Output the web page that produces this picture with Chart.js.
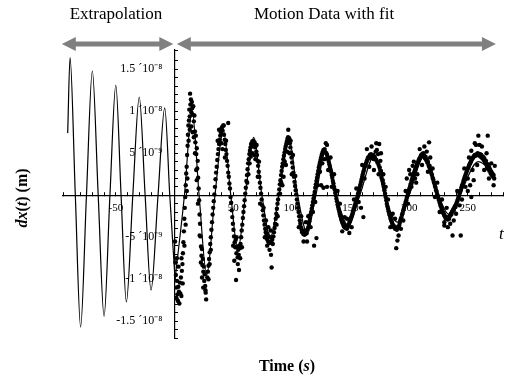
<!DOCTYPE html>
<html>
<head>
<meta charset="utf-8">
<script src="https://cdn.jsdelivr.net/npm/chart.js@4/dist/chart.umd.min.js"></script>
<style>
  html, body { margin: 0; padding: 0; background: #fff; }
</style>
</head>
<body>
<canvas id="myChart" width="513" height="383"></canvas>
<script>
// time in s, dx in nm (1e-9 m)
var extrapolation = [
  [-91, 7.4], [-89, 16.4], [-84.5, 0], [-80, -15.7], [-75, 0], [-70, 14.8], [-65, 0],
  [-60, -14.4], [-55, 0], [-50, 13.1], [-45.5, 0], [-41, -12.7], [-35.5, 0], [-30, 11.7],
  [-25, 0], [-20, -11.3], [-14, 0], [-8.3, 10.4], [-4, 0], [0.5, -10]
];

var fitCurve = [
  [0.5, -10], [8.5, 0], [15, 10.1], [21, 0], [27.5, -9.5], [34.5, 0], [41.7, 7.7], [48, 0],
  [54, -6.5], [60.5, 0], [67.5, 6.9], [74.5, 0], [81.7, -5], [89, 0], [97.5, 6.8], [105, 0],
  [113, -4.4], [120.5, 0], [129, 5.3], [138, 0], [148, -3.6], [158, 0], [170, 4.6], [179, 0],
  [190, -3.2], [200, 0], [213, 4.7], [225, 0], [234, -2.3], [243, 0], [259, 4.0], [273, 2.5]
];

var motionData = [
  [0.5,-5.5],[0.8,-8],[1.2,-9.5],[1.5,-11],[1.8,-12.3],[2.2,-10.2],[2.5,-11.8],[3,-12.6],[3.3,-10.9],
  [3.8,-11.5],[4.2,-12.9],[4.6,-10.4],[5,-11.7],[5.5,-9.8],[5.9,-12],[6.3,-9],[6.8,-8.2],[7.2,-6.9],
  [7.6,-5.6],[8,-4.3],[8.4,-2.8],[8.8,-1.5],[9.2,-0.2],[9.6,1.2],[10,2.6],[10.4,3.4],[10.8,4.8],
  [11.2,5.9],[11.5,7.2],[11.9,8.3],[12.3,8.9],[12.6,10.2],[13,9.4],[13.3,12.1],[13.6,10.8],[14,11.4],
  [14.4,9.9],[14.8,11.1],[15.2,10.4],[15.6,9.6],[16,10.6],
  [16.5,8.8],[17,9.5],[17.4,7.6],[17.8,6.3],[18.2,7.1],[18.6,4.9],[19,5.6],[19.4,3.2],[19.8,4.1],
  [20.2,2.1],[20.6,0.8],[21,-0.6],[21.4,-2.3],[21.8,-3.4],[22.2,-4.9],[22.6,-6.1],[23,-7.2],
  [23.4,-6.4],[23.8,-8.3],[24.2,-7.6],[24.6,-9.1],[25,-8.5],[25.4,-10.2],[25.8,-9.4],[26.2,-10.8],
  [26.6,-11.6],[27,-12.4],[26.4,-11.3],
  [28,-9.8],[28.5,-9.1],[29,-8.4],[29.5,-7.6],[30,-6.8],[30.5,-5.8],[31,-5],[31.5,-4.1],[32,-3.2],
  [32.5,-2.3],[33,-1.5],[33.5,-0.7],[34,0.1],[34.5,1],[35,1.9],[35.5,2.7],[36,3.4],[36.5,4.2],
  [37,4.9],[37.5,5.5],[38,6.1],[38.5,6.6],[39,7.1],[39.5,7.5],[40,7.9],[40.5,8.1],[41,7.7],[41.5,8.3],
  [42.2,7.2],[42.8,6.6],[43.3,6.1],[43.8,5.4],[44.3,4.9],[44.8,4.1],[45.3,3.5],[45.8,8.6],[45.8,2.7],
  [46.3,2.2],[46.8,1.4],[47.3,0.8],[47.8,-0.2],[48.3,-0.9],[48.8,-1.8],[49.3,-2.6],[49.8,-3.4],
  [50.3,-4.1],[50.8,-4.9],[51.3,-5.6],[51.8,-6.2],[52.2,-5.3],[52.5,-10.1],[52.8,-6.9],[53.3,-6.1],
  [53.8,-7.4],[54.3,-6.5],[54.8,-7.1],[55,-8.9],[55.4,-6],
  [55.8,-6.3],[56.3,-5.8],[56.8,-5],[57.3,-4.2],[57.8,-3.5],[58.3,-2.7],[58.8,-2],[59.3,-1.3],
  [59.8,-0.6],[60.3,0.2],[60.8,0.9],[61.3,1.7],[61.8,2.4],[62.3,3.1],[62.8,3.8],[63.3,4.3],[63.8,4.9],
  [64.3,5.3],[64.8,5.7],[65.3,6.1],[65.8,5.8],[66.3,6.4],[66.8,6],[67.3,6.5],[67.8,5.9],[68.3,6.3],
  [68.8,5.7],[69.3,6],
  [69.8,5.2],[70.3,4.8],[70.8,4.1],[71.3,3.5],[71.8,2.8],[72.3,2.2],[72.8,1.5],[73.3,0.9],[73.8,0.2],
  [74.3,-0.5],[74.8,-1.2],[75.3,-1.8],[75.8,-2.4],[76.3,-3],[76.8,-3.5],[77.3,-4],[77.8,-4.4],
  [78.3,-4.8],[78.8,-5.2],[79.3,-4.6],[79.8,-5.5],[80.3,-4.9],[80.8,-5.7],[81.3,-5],[81.8,-5.6],
  [82.3,-7.1],[82.8,-8.6],[83.3,-5.3],[83.8,-5.8],
  [84.3,-4.9],[84.8,-4.4],[85.3,-3.9],[85.8,-3.4],[86.3,-2.8],[86.8,-2.2],[87.3,-1.6],[87.8,-1],
  [88.3,-0.5],[88.8,0.1],[89.3,0.7],[89.8,1.3],[90.3,1.8],[90.8,2.4],[91.3,2.9],[91.8,3.4],[92.3,3.8],
  [92.8,4.3],[93.3,4.7],[93.8,5.1],[94.3,5.5],[94.8,5.8],[95.3,6.1],[95.8,6.4],[96.3,6.7],[96.8,6.9],
  [97.3,6.5],[97.8,6.8],[91,1.5],[93,2.2],[95,3.6],
  [98.3,6.2],[98.8,5.7],[99.3,5.1],[99.8,4.5],[100.3,3.9],[100.8,3.3],[101.3,2.7],[101.8,2.2],
  [102.3,1.6],[102.8,1.1],[103.3,0.6],[103.8,0.1],[104.3,-0.5],[104.8,-1],[105.3,-1.5],[105.8,-2],
  [106.3,-2.5],[106.8,-3],[107.3,-3.4],[107.8,-3.8],[108.3,-4.1],[108.8,-4.4],[109.3,-4.2],
  [109.8,-4.6],[110.3,-4.3],[110.8,-4.7],[111.3,-4.4],[111.8,-4.6],[112.3,-4.2],[112.8,-4.5],
  [113.5,-4.1],[114,-3.8],[114.5,-3.4],[115,-3.1],[115.5,-2.7],[116,-2.3],[116.5,-2],[117,-1.6],
  [117.5,-1.2],[118,-0.8],[118.5,-0.4],[119,0],[119,-6],[119.5,0.4],[120,0.9],[120.5,1.3],[121,1.7],
  [121,-5.1],[121.5,2.1],[122,2.5],[122.5,2.9],[123,3.3],[123.5,3.6],[124,3.9],[124.5,4.2],[125,4.5],
  [125.5,4.8],[126,5],[126.5,5.2],[127,5.4],[127.5,5.3],[128,5.5],[128.5,5.1],[129,6.2],
  [125,1.2],[127,0.9],[130,1],
  [129.5,5],[130,4.8],[130.5,4.5],[131,4.3],[131.5,4],[132,3.7],[132.5,3.4],[133,3.1],[133.5,2.8],
  [134,2.4],[134.5,2.1],[135,1.7],[135.5,1.4],[136,1],[136.5,0.7],[137,0.3],[137.5,0],[138,-0.4],
  [138.5,-0.7],[139,-1.1],[139.5,-1.4],[140,-1.7],[140.5,-2],[141,-2.3],[141.5,-2.5],[142,-2.8],
  [142.5,-3],[143,-3.2],[143.5,-3.4],[144,-3.5],[144.5,-3.7],[145,-3.8],[145.5,-3.6],[146,-3.9],
  [146.5,-3.7],[147,-4],[147.5,-3.8],[148,-3.6],
  [148.5,-3.5],[149,-3.3],[149.5,-3.1],[150,-2.9],[150.5,-2.7],[151,-2.5],[151.5,-2.3],[152,-2],
  [152.5,-1.8],[153,-1.6],[153.5,-1.3],[154,-1.1],[154.5,-0.9],[155,-0.6],[155.5,-0.4],[156,-0.1],
  [156.5,0.2],[157,0.4],[157.5,0.7],[158,1],[158.5,1.3],[159,1.6],[159,-1.5],[159.5,1.9],[160,2.2],
  [160.5,2.5],[161,2.8],[161,-2.6],[161.5,3],[162,3.3],[162.5,3.5],[163,3.7],[163.5,3.9],[164,4.1],
  [164.5,4.3],[165,4.5],[165.5,4.4],[166,4.6],[166.5,4.8],[167,4.5],[167.5,4.9],[168,4.6],[168.5,4.7],
  [169,4.4],[169.5,4.8],[170,4.3],
  [170.5,4.6],[171,4.4],[171.5,5.2],[172,4.2],[172.5,5.4],[173,3.9],[173.5,4.9],[174,3.6],[174.5,6.1],
  [175,3.3],[175.5,4.1],[176,2.9],[176.5,2.1],[177,2.5],[177.5,1.8],[178,1.4],[178.5,1],[179,0.6],
  [179.5,0.2],[180,-0.2],[180.5,-0.6],[181,-1],[181.5,-1.3],[182,-1.6],[182.5,-1.9],[183,-2.2],
  [183.5,-2.4],[184,-2.7],[184.5,-2.9],[185,-3.1],[185.5,-3.3],[186,-3.5],[186.5,-3.6],[187,-3.8],
  [187.5,-3.7],[188,-4],[188.5,-3.8],[189,-6.3],[189.5,-4.1],[190,-5.4],[190.5,-3.9],[191,-4.8],
  [191.5,-3.6],
  [192,-3.3],[192.5,-3],[193,-2.8],[193.5,-2.6],[194,-2.3],[194.5,-2.1],[195,-1.8],[195.5,-1.6],
  [196,-1.3],[196.5,-1.1],[197,-0.8],[197.5,-0.6],[198,-0.3],[198.5,-0.1],[199,0.2],[199.5,0.4],
  [200,0.7],[200.5,0.9],[201,1.2],[201.5,1.4],[202,1.7],[202.5,1.9],[203,2.1],[203.5,2.4],[204,2.6],
  [204.5,2.8],[205,3],[205.5,3.2],[206,3.4],[206.5,3.6],[207,3.8],[207.5,3.9],[208,4.1],[208.5,4.3],
  [209,4.4],[209.5,4.5],[210,4.7],[210.5,4.8],[211,4.9],[211.5,4.7],[212,5],[212.5,4.8],[213,4.6],
  [217,6.3],[198,2],[200,3],[202,1],[203,3.5],[205,2],[206,1.5],
  [213.5,4.4],[214,4.6],[214.5,4.2],[215,4.3],[215.5,3.9],[216,4],[216.5,3.6],[217,3.4],[217.5,3.5],
  [218,3.1],[218.5,2.9],[219,2.6],[219.5,2.4],[220,2.1],[220.5,1.9],[221,1.6],[221.5,1.4],[222,1.1],
  [222.5,0.9],[223,0.6],[223.5,0.4],[224,0.1],[224.5,-0.1],[225,-0.4],[225.5,-0.6],[226,-0.9],
  [226.5,-1.1],[227,-1.3],[227.5,-1.5],[228,-1.7],[228.5,-1.9],[229,-2.1],[229.5,-2.2],[230,-2.4],
  [230,-3.6],[230.5,-2.5],[231,-2.7],[231.5,-2.6],[232,-2.8],[232.5,-2.7],[233,-2.9],[233.5,-2.6],
  [234,-2.8],[234.5,-2.5],
  [235,-2.4],[235.5,-2.2],[236,-2.3],[236.5,-2],[237,-4.8],[237,-1.9],[237.5,-1.7],[238,-1.8],
  [238.5,-1.5],[239,-1.3],[239.5,-1.4],[240,-1.1],[240.5,-0.9],[241,-0.7],[241.5,-0.5],[242,-0.3],
  [242.5,-0.1],[243,0.2],[243.5,0.4],[244,-4.8],[244,0.6],[244.5,0.9],[245,1.1],[245.5,1.3],[246,1.5],
  [246.5,1.8],[247,2],[247.5,2.2],[248,2.4],[248.5,2.6],[249,2.8],[249.5,3],[250,3.2],[250.5,3.3],
  [251,3.5],[251.5,3.7],[252,3.8],[252.5,4],[253,4.1],[253.5,4.3],[254,4.4],[254.5,4.5],[255,4.6],
  [255.5,4.7],[256,4.8],[256.5,4.7],[257,6],[257.5,4.9],[258,4.8],[258.5,5],[259,7.1],[259.5,4.9],
  [260,4.7],[260.5,4.9],[261,4.6],[261.5,4.8],[262,4.5],[262.5,4.4],[263,4.6],[263.5,4.2],[264,4.4],
  [264.5,4],[265,3.8],[265.5,4.1],[266,3.6],[266.5,3.3],[267,7.1],[267,3.7],[267.5,3.1],[268,3.4],
  [268.5,2.9],[269,3.1],[269.5,2.6],[270,2.8],[270.5,2.4],[271,2.6],[271.5,2.2],[272,2.4],[272.5,2],
  [250,0.5],[252,1.2],[253,-0.2],[255,1.8]
];

// dots lying off the main band
var motionScatter = [
  [12,6.5],[13,7.8],[14.5,8.2],[15.5,7.5],[16.5,6.9],[17.5,5],[18.5,3],[19,1.8],[20,-1],[21.5,-4.8],
  [22.5,-8],[23.5,-9.8],[24.5,-11],[8.5,-6],[9.5,-3.5],[10.5,0.5],[11,2],[7,-10.5],[6,-7.5],[3.5,-8.5],
  [2,-7.5],
  [36.8,6.5],[38,7.8],[40,6.2],[42,8.3],[43,4.5],[44,6.5],[41,5.5],[30,-8.2],[31,-6.5],[29,-10],
  [50,-6],[51,-7.8],[53,-5],[54,-8.2],[56,-7.5],[57.5,-6.2],
  [62,1.5],[63,2.5],[64,3.8],[65,4.6],[66.5,5],[68,4.8],[69,4.3],[70,6],[71,2.2],[72,4],[73,-1],
  [76,-1.5],[77,-5],[78,-3],[79,-6],[80,-3.8],[81,-6.5],[82,-4.2],
  [87,-3.5],[88,-2.5],[90,0.2],[92,1.2],[94,4],[96,5.2],[97,7.8],[98,5],[99,6.5],[100,2.5],[101,4.8],
  [103,2.3],[106,-3.8],[108,-2.5],[110,-5.5],[112,-3.2],[113,-5.5],[114,-2.5],
  [116,-3.8],[118,-2],[120,-0.8],[122,1.2],[124,2.8],[126,3.8],[128,4.3],[130,6],[131,3],[133,4.5],
  [134,1],[136,2.5],[139,0.5],[141,-1],[143,-4.3],[145,-2.6],[147,-2.8],[149,-4.5],
  [151,-3.8],[153,-0.5],[155,0.8],[157,-0.8],[160,3.6],[162,2],[164,5.5],[166,3.4],[168,5.8],[170,3],
  [172,6.2],[174,2.5],[176,5],[178,2.5],[180,1],[182,-0.5],[184,-3.8],[186,-2.2],[188,-2.8],
  [193,-4],[195,-3],[197,0.5],[199,-1],[201,2.5],[204,4],[207,2.5],[209,5.5],[211,3.6],[213,5.8],
  [215,5.2],[216,2.8],[218,4.5],[220,3.2],[222,-0.2],[224,1.5],[226,-2],[228,-0.5],[230,-3.2],
  [232,-1.5],[233,-3.8],[235,-3.4],
  [238,-3],[240,-2.2],[241,0.5],[243,-1.2],[245,-0.5],[247,3.2],[248,1],[250,2],[251,4.5],[253,5.3],
  [254,3],[256,6.2],[258,3.6],[260,6],[262,5.8],[264,3],[266,5],[268,2],[270,3.8],[272,1.2],[273,3.5]
];

var xTickValues = [-50, 50, 100, 150, 200, 250];
var yTickValues = [-15, -10, -5, 5, 10, 15];
var yTickLabels = ['-1.5 \u00B410\u207B\u2078', '-1 \u00B410\u207B\u2078', '-5 \u00B410\u207B\u2079',
                   '5 \u00B410\u207B\u2079', '1 \u00B410\u207B\u2078', '1.5 \u00B410\u207B\u2078'];

// region spans for the arrows above the plot (seconds)
var extrapolationSpan = [-96, -1];
var motionSpan = [2, 274];

function toXY(p) { return {x: p[0], y: p[1]}; }

function drawArrow(ctx, x1, x2, y) {
  var head = 14, half = 7;
  ctx.save();
  ctx.fillStyle = '#808080';
  ctx.fillRect(x1 + head - 1, y - 2.5, x2 - x1 - 2 * head + 2, 5);
  ctx.beginPath();
  ctx.moveTo(x1, y); ctx.lineTo(x1 + head, y - half); ctx.lineTo(x1 + head, y + half);
  ctx.closePath(); ctx.fill();
  ctx.beginPath();
  ctx.moveTo(x2, y); ctx.lineTo(x2 - head, y - half); ctx.lineTo(x2 - head, y + half);
  ctx.closePath(); ctx.fill();
  ctx.restore();
}

function drawPieces(ctx, pieces, x, y) {
  // pieces: [text, font], drawn centered on x
  var total = 0;
  pieces.forEach(function (p) { ctx.font = p[1]; total += ctx.measureText(p[0]).width; });
  var cx = x - total / 2;
  pieces.forEach(function (p) {
    ctx.font = p[1];
    ctx.fillText(p[0], cx, y);
    cx += ctx.measureText(p[0]).width;
  });
}

var decorations = {
  id: 'decorations',
  afterDraw: function (chart) {
    var ctx = chart.ctx, xs = chart.scales.x, area = chart.chartArea;
    var ay = area.top - 6;
    drawArrow(ctx, xs.getPixelForValue(extrapolationSpan[0]), xs.getPixelForValue(extrapolationSpan[1]), ay);
    drawArrow(ctx, xs.getPixelForValue(motionSpan[0]), xs.getPixelForValue(motionSpan[1]), ay);

    ctx.save();
    ctx.fillStyle = '#000';
    ctx.textBaseline = 'alphabetic';
    ctx.textAlign = 'left';
    ctx.font = '17px "Liberation Serif"';
    var w1 = ctx.measureText('Extrapolation').width;
    ctx.fillText('Extrapolation', 116 - w1 / 2, 19);
    var w2 = ctx.measureText('Motion Data with fit').width;
    ctx.fillText('Motion Data with fit', 324 - w2 / 2, 19);

    drawPieces(ctx, [['Time (', 'bold 16px "Liberation Serif"'], ['s', 'bold italic 16px "Liberation Serif"'],
                     [')', 'bold 16px "Liberation Serif"']], 287, 371);

    ctx.font = 'italic 17px "Liberation Serif"';
    ctx.fillText('t', 499, 239);

    ctx.translate(27, 198);
    ctx.rotate(-Math.PI / 2);
    drawPieces(ctx, [['dx', 'bold italic 16px "Liberation Serif"'], ['(', 'bold 16px "Liberation Serif"'],
                     ['t', 'bold italic 16px "Liberation Serif"'], [') (m)', 'bold 16px "Liberation Serif"']], 0, 0);
    ctx.restore();
  }
};

var ctx = document.getElementById('myChart').getContext('2d');
var myChart = new Chart(ctx, {
  type: 'scatter',
  data: {
    datasets: [{
      label: 'Extrapolation',
      data: extrapolation.map(toXY),
      showLine: true,
      borderColor: '#000',
      borderWidth: 1.2,
      pointRadius: 0,
      cubicInterpolationMode: 'monotone'
    }, {
      label: 'Fit',
      data: fitCurve.map(toXY),
      showLine: true,
      borderColor: '#000',
      borderWidth: 1.2,
      pointRadius: 0,
      cubicInterpolationMode: 'monotone'
    }, {
      label: 'Motion data',
      data: motionData.concat(motionScatter).map(toXY),
      showLine: false,
      pointRadius: 2.2,
      pointBackgroundColor: '#000',
      pointBorderWidth: 0
    }]
  },
  options: {
    responsive: false,
    animation: false,
    layout: { padding: { top: 50, bottom: 45, left: 63, right: 0 } },
    plugins: { legend: { display: false }, tooltip: { enabled: false } },
    scales: {
      x: {
        type: 'linear',
        min: -95,
        max: 280,
        position: { y: 0 },
        border: { display: true, color: '#000', width: 1.2 },
        grid: { drawOnChartArea: false, tickLength: -4, color: '#000' },
        ticks: {
          stepSize: 10,
          autoSkip: false,
          maxRotation: 0,
          padding: 10,
          color: '#000',
          font: { family: 'Liberation Serif', size: 11 },
          callback: function (v) { return xTickValues.indexOf(v) >= 0 ? String(v) : ''; }
        }
      },
      y: {
        type: 'linear',
        min: -17,
        max: 17.3,
        position: { x: 0 },
        border: { display: true, color: '#000', width: 1.2 },
        grid: { drawOnChartArea: false, tickLength: -4, color: '#000' },
        ticks: {
          stepSize: 1,
          autoSkip: false,
          color: '#000',
          font: { family: 'Liberation Serif', size: 12 },
          callback: function (v) {
            var i = yTickValues.indexOf(v);
            // two en spaces keep the label clear of the axis line
            return i >= 0 ? yTickLabels[i] + '\u2002\u2002' : '';
          }
        }
      }
    }
  },
  plugins: [decorations]
});
</script>
</body>
</html>
